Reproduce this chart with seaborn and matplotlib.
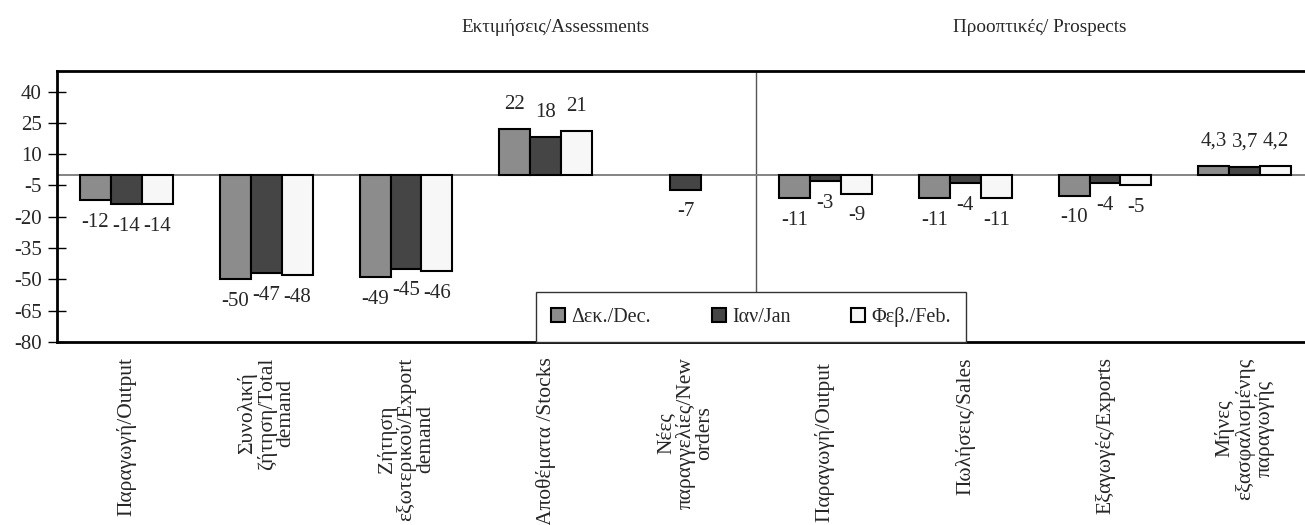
import numpy as np
import pandas as pd
import matplotlib
matplotlib.use("Agg")
import matplotlib.pyplot as plt
from matplotlib.patches import Patch
import seaborn as sns

# ---- data ----
categories = [
    "Παραγωγή/Output",
    "Συνολική\nζήτηση/Total\ndemand",
    "Ζήτηση\nεξωτερικού/Export\ndemand",
    "Αποθέματα /Stocks",
    "Νέες\nπαραγγελίες/New\norders",
    "Παραγωγή/Output ",
    "Πωλήσεις/Sales",
    "Εξαγωγές/Exports",
    "Μήνες\nεξασφαλισμένης\nπαραγωγής",
]
series = ["Δεκ./Dec.", "Ιαν/Jan", "Φεβ./Feb."]
dec_values = [-12, -50, -49, 22, np.nan, -11, -11, -10, 4.3]
jan_values = [-14, -47, -45, 18, -7, -3, -4, -4, 3.7]
feb_values = [-14, -48, -46, 21, np.nan, -9, -11, -5, 4.2]
section_titles = ["Εκτιμήσεις/Assessments", "Προοπτικές/ Prospects"]
y_ticks = [40, 25, 10, -5, -20, -35, -50, -65, -80]

colors = ["#8c8c8c", "#454545", "#f7f7f7"]

rows = []
for s, vals in zip(series, [dec_values, jan_values, feb_values]):
    for c, v in zip(categories, vals):
        rows.append({"category": c, "series": s, "value": v})
df = pd.DataFrame(rows)

sns.set_theme(style="white")
plt.rcParams["font.family"] = ["Liberation Serif", "DejaVu Serif"]

fig = plt.figure(figsize=(13.05, 5.25), dpi=100)
ax = fig.add_axes([56.5 / 1305, 1 - 342 / 525, 1 - 56.5 / 1305, (342 - 70.7) / 525])

sns.barplot(data=df, x="category", y="value", hue="series",
            order=categories, hue_order=series, palette=colors,
            width=0.665, edgecolor="black", linewidth=1.5,
            saturation=1, errorbar=None, legend=False, ax=ax, zorder=3)

def fmt(v):
    if float(v).is_integer():
        return f"{int(v)}"
    return f"{v:.1f}".replace(".", ",")

for cont in ax.containers:
    vals = cont.datavalues
    pos_lab = [fmt(v) if v >= 0 else "" for v in vals]
    neg_lab = [fmt(v) if v < 0 else "" for v in vals]
    ax.bar_label(cont, labels=pos_lab, padding=11, fontsize=15)
    ax.bar_label(cont, labels=neg_lab, padding=9, fontsize=15)

ax.axhline(0, color="#7a7a7a", lw=1.3, zorder=2)
ax.axvline(4.5, color="#555555", lw=1.0, zorder=1)

ax.set_ylim(-80, 50)
ax.set_xlim(-0.5, -0.5 + (1305 - 56.5) / 139.8)
ax.set_yticks(y_ticks)
ax.set_yticklabels([str(t) for t in y_ticks], fontsize=15)
ax.set_xticks(range(len(categories)))
ax.set_xticklabels(categories, rotation=90, ha="center", va="top",
                   multialignment="center", fontsize=15.5, linespacing=1.0)
ax.tick_params(axis="x", length=0, pad=11)
ax.tick_params(axis="y", direction="inout", length=13, width=1, color="black",
               left=True, pad=4)
ax.set_xlabel("")
ax.set_ylabel("")
for side in ["top", "bottom", "left"]:
    ax.spines[side].set_visible(True)
    ax.spines[side].set_color("black")
    ax.spines[side].set_linewidth(2)
ax.spines["right"].set_visible(False)

handles = [Patch(facecolor=c, edgecolor="black", linewidth=1.5) for c in colors]
leg = fig.legend(handles, series, loc="lower left",
                 bbox_to_anchor=(536 / 1305, 1 - 342 / 525, 430 / 1305, 46 / 525),
                 mode="expand", ncol=3, fontsize=14.5, frameon=True, fancybox=False,
                 handlelength=0.7, handleheight=0.7, handletextpad=0.3,
                 borderaxespad=0, borderpad=0.75)
leg.get_frame().set_edgecolor("#333333")
leg.get_frame().set_linewidth(1.0)
leg.get_frame().set_alpha(1)

fig.text(556 / 1305, 1 - 28 / 525, section_titles[0], ha="center", va="center", fontsize=13.8)
fig.text(1040 / 1305, 1 - 28 / 525, section_titles[1], ha="center", va="center", fontsize=13.8)

fig.savefig("out.png", dpi=100)
